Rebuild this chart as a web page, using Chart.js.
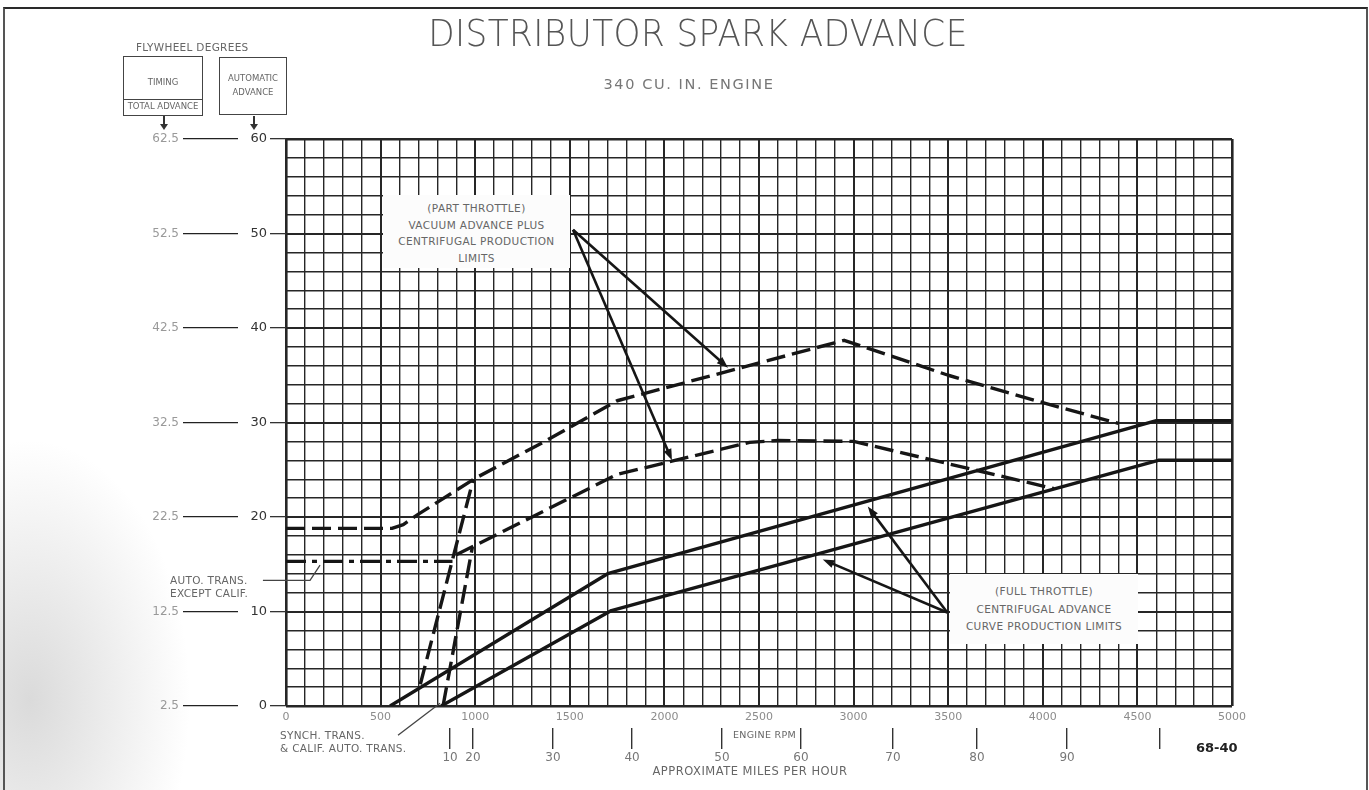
<!DOCTYPE html>
<html>
<head>
<meta charset="utf-8">
<title>Distributor Spark Advance</title>
<script src="https://cdn.jsdelivr.net/npm/chart.js@4.4.0/dist/chart.umd.min.js"></script>
<style>
    html, body {
        margin: 0;
        padding: 0;
        width: 1369px;
        height: 790px;
        overflow: hidden;
        background: #fff;
        font-family: "DejaVu Sans", sans-serif;
    }
    #page {
        position: relative;
        width: 1369px;
        height: 790px;
        background:
            radial-gradient(ellipse 160px 260px at 30px 700px, rgba(150,150,150,0.35), rgba(255,255,255,0) 100%),
            #fff;
    }
    #frame {
        position: absolute;
        left: 3px;
        top: 7px;
        width: 1361px;
        height: 800px;
        border-top: 2px solid #2a2a2a;
        border-left: 2px solid #555;
        border-right: 2px solid #555;
    }
    canvas { position: absolute; left: 0; top: 0; }
    .txt {
        position: absolute;
        color: #666;
        font-size: 10.5px;
        white-space: nowrap;
        letter-spacing: 0.3px;
    }
    .label-box {
        position: absolute;
        background: #fcfcfc;
        color: #666;
        font-size: 10.5px;
        text-align: center;
        letter-spacing: 0.4px;
        white-space: nowrap;
    }
    #title {
        position: absolute;
        left: 698px;
        top: 11px;
        transform: translateX(-50%) scaleX(0.9);
        font-size: 38px;
        font-weight: 200;
        color: #555;
        letter-spacing: 0.5px;
        white-space: nowrap;
    }
    #subtitle {
        position: absolute;
        left: 689px;
        top: 76px;
        transform: translateX(-50%);
        font-size: 14.5px;
        color: #777;
        letter-spacing: 1.6px;
        white-space: nowrap;
    }
    .hdr-box {
        position: absolute;
        border: 1.5px solid #444;
        color: #666;
        font-size: 8.5px;
        text-align: center;
        box-sizing: border-box;
    }
    .down-arrow {
        position: absolute;
        width: 1.5px;
        height: 10px;
        background: #333;
    }
    .down-arrow::after {
        content: "";
        position: absolute;
        left: -3px;
        top: 8px;
        border-left: 4px solid transparent;
        border-right: 4px solid transparent;
        border-top: 6px solid #333;
    }
</style>
</head>
<body>
<div id="page">
    <div id="frame"></div>
    <canvas id="advanceChart" width="1369" height="790"></canvas>

    <div id="title">DISTRIBUTOR SPARK ADVANCE</div>
    <div id="subtitle">340 CU. IN. ENGINE</div>

    <div class="txt" style="left:136px; top:41px; font-size:10.5px;">FLYWHEEL DEGREES</div>
    <div class="hdr-box" style="left:123px; top:56px; width:80px; height:60px;">
        <div style="margin-top:20px;">TIMING</div>
        <div style="position:absolute; left:0; right:0; top:42px; border-top:1.5px solid #444; padding-top:1px;">TOTAL ADVANCE</div>
    </div>
    <div class="hdr-box" style="left:219px; top:57px; width:68px; height:58px; line-height:14px;">
        <div style="margin-top:13px;">AUTOMATIC</div>
        <div>ADVANCE</div>
    </div>
    <div class="down-arrow" style="left:163px; top:116px;"></div>
    <div class="down-arrow" style="left:253px; top:116px;"></div>

    <div class="label-box" style="left:383px; top:195px; width:187px; height:73px; line-height:16.5px; padding-top:5px; box-sizing:border-box;">
        (PART THROTTLE)<br>VACUUM ADVANCE PLUS<br>CENTRIFUGAL PRODUCTION<br>LIMITS
    </div>
    <div class="label-box" style="left:950px; top:574px; width:188px; height:70px; line-height:17.5px; padding-top:9px; box-sizing:border-box;">
        (FULL THROTTLE)<br>CENTRIFUGAL ADVANCE<br>CURVE PRODUCTION LIMITS
    </div>

    <div class="txt" style="left:170px; top:574px; line-height:12.5px;">AUTO. TRANS.<br>EXCEPT CALIF.</div>
    <div class="txt" style="left:280px; top:729px; line-height:13px;">SYNCH. TRANS.<br>&amp; CALIF. AUTO. TRANS.</div>
    <div class="txt" style="left:733px; top:729px; font-size:9.5px;">ENGINE RPM</div>
    <div class="txt" style="left:750px; top:764px; transform:translateX(-50%); font-size:11.5px; letter-spacing:0.5px;">APPROXIMATE MILES PER HOUR</div>
    <div class="txt" style="left:1196px; top:740px; font-size:13px; font-weight:bold; color:#222; letter-spacing:0;">68-40</div>
</div>

<script>
// ---- Chart data ----

// Full throttle: centrifugal advance production limits (solid lines)
const fullMaxRpm = [550, 1700, 4600, 5000];
const fullMaxDeg = [0, 14.0, 30.2, 30.2];
const fullMinRpm = [820, 1720, 4610, 5000];
const fullMinDeg = [0, 10.1, 26.0, 26.0];

// Part throttle: vacuum advance plus centrifugal production limits (dashed)
const partMaxRpm = [0, 560, 620, 700, 1000, 1350, 1750, 2950, 3500, 4000, 4400];
const partMaxDeg = [18.8, 18.8, 19.2, 20.3, 24.1, 27.8, 32.3, 38.7, 35.0, 32.1, 29.9];
const partMinRpm = [900, 1750, 2450, 2600, 3000, 4060];
const partMinDeg = [16.0, 24.5, 27.9, 28.1, 28.0, 23.0];

// Auto trans. except Calif. idle level (dash-dot)
const autoRpm = [0, 880];
const autoDeg = [15.3, 15.3];

// Steep dashed rises at the low-rpm end
const steepUpperRpm = [710, 990];
const steepUpperDeg = [2.3, 24.0];
const steepLowerRpm = [830, 985];
const steepLowerDeg = [0, 16.8];

// Axis ticks and labels
const advanceTicks = [0, 10, 20, 30, 40, 50, 60];
const advanceLabels = ['0', '10', '20', '30', '40', '50', '60'];
const timingLabels = ['2.5', '12.5', '22.5', '32.5', '42.5', '52.5', '62.5'];
const mphRpm = [867, 988, 1411, 1829, 2304, 2722, 3208, 3652, 4128, 4619];
const mphLabels = ['10', '20', '30', '40', '50', '60', '70', '80', '90', ''];

// Callout arrows and leader lines, in chart units [rpm, degrees]
const partCalloutFrom = [1517, 50.4];
const partCalloutTips = [[2336, 35.8], [2040, 26.0]];
const fullCalloutFrom = [3495, 9.9];
const fullCalloutTips = [[3075, 21.1], [2837, 15.5]];
const autoLeader = [[-122, 13.3], [127, 13.3], [180, 14.9]];
const synchLeader = [[592, -3.1], [814, 0.3]];

const INK = '#161616';
const GRID = '#262626';

document.addEventListener('DOMContentLoaded', () => {
    initChart();
});

/**
 * Zip two arrays into {x, y} points
 */
function toPoints(xs, ys) {
    return xs.map((x, i) => ({ x: x, y: ys[i] }));
}

/**
 * Build one line dataset
 */
function lineSet(label, xs, ys, dash) {
    return {
        label: label,
        data: toPoints(xs, ys),
        borderColor: INK,
        borderWidth: 3.4,
        borderDash: dash || [],
        borderCapStyle: 'butt',
        borderJoinStyle: 'round',
        pointRadius: 0,
        tension: 0,
        fill: false
    };
}

/**
 * Plugin that draws the callout arrows and leader lines
 */
const calloutPlugin = {
    id: 'callouts',
    afterDatasetsDraw(chart) {
        const ctx = chart.ctx;
        const xs = chart.scales.x;
        const ys = chart.scales.y;
        const px = p => [xs.getPixelForValue(p[0]), ys.getPixelForValue(p[1])];

        function arrow(from, to) {
            const a = px(from);
            const b = px(to);
            const ang = Math.atan2(b[1] - a[1], b[0] - a[0]);
            ctx.beginPath();
            ctx.moveTo(a[0], a[1]);
            ctx.lineTo(b[0] - 6 * Math.cos(ang), b[1] - 6 * Math.sin(ang));
            ctx.stroke();
            ctx.beginPath();
            ctx.moveTo(b[0], b[1]);
            ctx.lineTo(b[0] - 12 * Math.cos(ang - 0.35), b[1] - 12 * Math.sin(ang - 0.35));
            ctx.lineTo(b[0] - 12 * Math.cos(ang + 0.35), b[1] - 12 * Math.sin(ang + 0.35));
            ctx.closePath();
            ctx.fill();
        }

        function polyline(pts, width) {
            ctx.lineWidth = width;
            ctx.beginPath();
            pts.forEach((p, i) => {
                const q = px(p);
                if (i === 0) ctx.moveTo(q[0], q[1]);
                else ctx.lineTo(q[0], q[1]);
            });
            ctx.stroke();
        }

        ctx.save();
        ctx.strokeStyle = INK;
        ctx.fillStyle = INK;
        ctx.lineWidth = 2.6;
        partCalloutTips.forEach(t => arrow(partCalloutFrom, t));
        fullCalloutTips.forEach(t => arrow(fullCalloutFrom, t));
        ctx.strokeStyle = '#444';
        polyline(autoLeader, 1.3);
        polyline(synchLeader, 1.3);
        ctx.restore();
    }
};

/**
 * Initialize the spark advance chart
 */
function initChart() {
    const canvas = document.getElementById('advanceChart');
    const ctx = canvas.getContext('2d');

    const gridWidth = (value, edgeA, edgeB, major) => {
        if (value === edgeA || value === edgeB) return 2.6;
        return value % major === 0 ? 2 : 1.4;
    };

    new Chart(ctx, {
        type: 'line',
        data: {
            datasets: [
                lineSet('Full throttle max', fullMaxRpm, fullMaxDeg),
                lineSet('Full throttle min', fullMinRpm, fullMinDeg),
                lineSet('Part throttle max', partMaxRpm, partMaxDeg, [19, 7]),
                lineSet('Part throttle min', partMinRpm, partMinDeg, [19, 7]),
                lineSet('Auto trans except Calif', autoRpm, autoDeg, [20, 6, 5, 6]),
                lineSet('Rise upper', steepUpperRpm, steepUpperDeg, [19, 7]),
                lineSet('Rise lower', steepLowerRpm, steepLowerDeg, [19, 7])
            ]
        },
        options: {
            responsive: false,
            animation: false,
            layout: {
                padding: { left: 0, top: 139, right: 137, bottom: 0 }
            },
            plugins: {
                legend: { display: false },
                tooltip: { enabled: false }
            },
            scales: {
                x: {
                    type: 'linear',
                    position: 'bottom',
                    weight: 0,
                    min: 0,
                    max: 5000,
                    border: { display: false },
                    grid: {
                        color: GRID,
                        drawTicks: false,
                        lineWidth: c => gridWidth(c.tick.value, 0, 5000, 500)
                    },
                    ticks: {
                        stepSize: 100,
                        autoSkip: false,
                        maxRotation: 0,
                        padding: 5,
                        color: '#8c8c8c',
                        font: { family: 'DejaVu Sans', size: 11 },
                        callback: v => (v % 500 === 0 ? String(v) : '')
                    },
                    afterFit: s => { s.height = 22; }
                },
                mph: {
                    type: 'linear',
                    position: 'bottom',
                    weight: 1,
                    min: 0,
                    max: 5000,
                    border: { display: false },
                    grid: {
                        drawOnChartArea: false,
                        drawTicks: true,
                        tickLength: 21,
                        color: '#333',
                        lineWidth: 1.4
                    },
                    afterBuildTicks: s => { s.ticks = mphRpm.map(v => ({ value: v })); },
                    ticks: {
                        autoSkip: false,
                        maxRotation: 0,
                        padding: 2,
                        color: '#777',
                        font: { family: 'DejaVu Sans', size: 12 },
                        callback: (v, i) => mphLabels[i]
                    },
                    afterFit: s => { s.height = 62; }
                },
                y: {
                    type: 'linear',
                    position: 'left',
                    weight: 0,
                    min: 0,
                    max: 60,
                    border: { display: false },
                    grid: {
                        color: GRID,
                        drawTicks: false,
                        lineWidth: c => gridWidth(c.tick.value, 0, 60, 10)
                    },
                    ticks: { display: false, stepSize: 2 },
                    afterFit: s => { s.width = 0; }
                },
                yAdv: {
                    type: 'linear',
                    position: 'left',
                    weight: 1,
                    min: 0,
                    max: 60,
                    border: { display: false },
                    grid: {
                        drawOnChartArea: false,
                        tickLength: 16,
                        color: '#333',
                        lineWidth: 1.3
                    },
                    afterBuildTicks: s => { s.ticks = advanceTicks.map(v => ({ value: v })); },
                    ticks: {
                        padding: 3,
                        color: '#333',
                        font: { family: 'DejaVu Sans', size: 13 },
                        callback: (v, i) => advanceLabels[i]
                    },
                    afterFit: s => { s.width = 48; }
                },
                yTiming: {
                    type: 'linear',
                    position: 'left',
                    weight: 2,
                    min: 0,
                    max: 60,
                    border: { display: false },
                    grid: {
                        drawOnChartArea: false,
                        tickLength: 55,
                        color: '#222',
                        lineWidth: 1.3
                    },
                    afterBuildTicks: s => { s.ticks = advanceTicks.map(v => ({ value: v })); },
                    ticks: {
                        padding: 4,
                        color: '#999',
                        font: { family: 'DejaVu Sans', size: 12 },
                        callback: (v, i) => timingLabels[i]
                    },
                    afterFit: s => { s.width = 238; }
                }
            }
        },
        plugins: [calloutPlugin]
    });
}
</script>
</body>
</html>
